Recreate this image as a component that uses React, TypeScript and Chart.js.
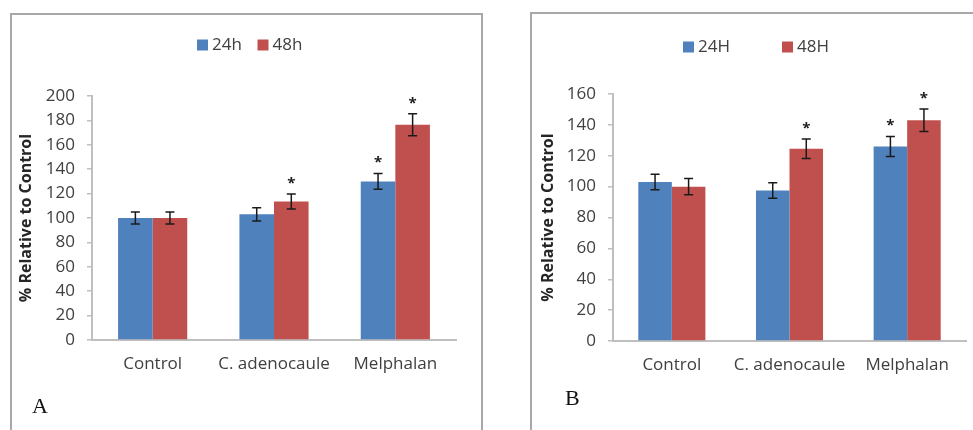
import React, { useEffect, useRef } from 'react';
import { Chart, registerables } from 'chart.js';

Chart.register(...registerables);

// ---------- data ----------
const categories = ['Control', 'C. adenocaule', 'Melphalan'];

// Panel A
const seriesA = ['24h', '48h'];
const a24 = [100, 103, 130];
const a48 = [100, 113.5, 176.5];
const a24Err = [5, 5.5, 6.5];
const a48Err = [5, 6.2, 9];
const a24Sig = [false, false, true];
const a48Sig = [false, true, true];
const aMax = 200;
const aStep = 20;

// Panel B
const seriesB = ['24H', '48H'];
const b24 = [103, 97.5, 126];
const b48 = [100, 124.5, 143];
const b24Err = [5, 5, 6.5];
const b48Err = [5.3, 6.3, 7.3];
const b24Sig = [false, false, true];
const b48Sig = [false, true, true];
const bMax = 160;
const bStep = 20;

const yTitle = '% Relative to Control';

// ---------- styles ----------
const BLUE = '#4F81BD';
const RED = '#C0504D';
const FONT = "'Open Sans', sans-serif";
const TEXT = '#404040';
const AXIS = '#bfbfbf';

function makeErrorPlugin(errors: number[][], sig: boolean[][]) {
  return {
    id: 'errorBars',
    afterDatasetsDraw(chart: any) {
      const { ctx } = chart;
      const ys = chart.scales.y;
      chart.data.datasets.forEach((ds: any, di: number) => {
        const meta = chart.getDatasetMeta(di);
        meta.data.forEach((bar: any, i: number) => {
          const v = ds.data[i];
          const e = errors[di][i];
          const top = ys.getPixelForValue(v + e);
          const bot = ys.getPixelForValue(v - e);
          const x = bar.x;
          const cap = 4.5;
          ctx.save();
          ctx.strokeStyle = '#1a1a1a';
          ctx.lineWidth = 1.5;
          ctx.beginPath();
          ctx.moveTo(x, top);
          ctx.lineTo(x, bot);
          ctx.moveTo(x - cap, top);
          ctx.lineTo(x + cap, top);
          ctx.moveTo(x - cap, bot);
          ctx.lineTo(x + cap, bot);
          ctx.stroke();
          if (sig[di][i]) {
            ctx.fillStyle = '#1a1a1a';
            ctx.font = `bold 15px ${FONT}`;
            ctx.textAlign = 'center';
            ctx.textBaseline = 'alphabetic';
            ctx.fillText('*', x, top - 6);
          }
          ctx.restore();
        });
      });
    },
  };
}

function makeLegendPlugin(xs: number[], yc: number) {
  return {
    id: 'manualLegend',
    afterDraw(chart: any) {
      const { ctx } = chart;
      chart.data.datasets.forEach((ds: any, di: number) => {
        const x = xs[di];
        ctx.save();
        ctx.fillStyle = ds.backgroundColor;
        ctx.fillRect(x, yc - 5.5, 11, 11);
        ctx.fillStyle = TEXT;
        ctx.font = `17px ${FONT}`;
        ctx.textAlign = 'left';
        ctx.textBaseline = 'middle';
        ctx.fillText(ds.label, x + 15, yc);
        ctx.restore();
      });
    },
  };
}

interface PanelCfg {
  series: string[];
  d24: number[];
  d48: number[];
  errors: number[][];
  sig: boolean[][];
  max: number;
  step: number;
  pad: { left: number; right: number; top: number; bottom: number };
  yWidth: number;
  legendXs: number[];
  legendY: number;
}

function buildChart(canvas: HTMLCanvasElement, c: PanelCfg) {
  return new Chart(canvas, {
    type: 'bar',
    data: {
      labels: categories,
      datasets: [
        { label: c.series[0], data: c.d24, backgroundColor: BLUE, borderWidth: 0, barPercentage: 1, categoryPercentage: 0.57 },
        { label: c.series[1], data: c.d48, backgroundColor: RED, borderWidth: 0, barPercentage: 1, categoryPercentage: 0.57 },
      ],
    },
    options: {
      responsive: false,
      animation: false,
      layout: { padding: c.pad },
      plugins: {
        legend: { display: false },
        tooltip: { enabled: false },
        title: { display: false },
      },
      scales: {
        x: {
          grid: { display: false, drawTicks: false },
          border: { display: true, color: AXIS, width: 2 },
          ticks: { color: TEXT, font: { family: FONT, size: 17 }, padding: 14, maxRotation: 0, autoSkip: false },
          afterFit: (s: any) => { s.height = 40; },
        },
        y: {
          min: 0,
          max: c.max,
          ticks: { stepSize: c.step, color: TEXT, font: { family: FONT, size: 17 }, padding: 12 },
          grid: { drawOnChartArea: false, drawTicks: true, tickLength: 5, color: AXIS, lineWidth: 1.5 },
          border: { display: true, color: AXIS, width: 2 },
          title: { display: true, text: yTitle, color: '#262626', font: { family: FONT, size: 16, weight: 'bold' }, padding: { top: 4, bottom: 4 } },
          afterFit: (s: any) => { s.width = c.yWidth; },
        },
      },
    } as any,
    plugins: [makeErrorPlugin(c.errors, c.sig), makeLegendPlugin(c.legendXs, c.legendY)],
  });
}

const cfgA: PanelCfg = {
  series: seriesA,
  d24: a24,
  d48: a48,
  errors: [a24Err, a48Err],
  sig: [a24Sig, a48Sig],
  max: aMax,
  step: aStep,
  pad: { left: 13, right: 29, top: 96, bottom: 50 },
  yWidth: 79,
  legendXs: [197, 257.5],
  legendY: 45,
};

const cfgB: PanelCfg = {
  series: seriesB,
  d24: b24,
  d48: b48,
  errors: [b24Err, b48Err],
  sig: [b24Sig, b48Sig],
  max: bMax,
  step: bStep,
  pad: { left: 15, right: 7, top: 94, bottom: 49 },
  yWidth: 78,
  legendXs: [163, 262],
  legendY: 47,
};

export default function App() {
  const refA = useRef<HTMLCanvasElement>(null);
  const refB = useRef<HTMLCanvasElement>(null);

  useEffect(() => {
    const ca = buildChart(refA.current!, cfgA);
    const cb = buildChart(refB.current!, cfgB);
    return () => {
      ca.destroy();
      cb.destroy();
    };
  }, []);

  const border = '2px solid #a8a8a8';
  const letter: React.CSSProperties = {
    position: 'absolute',
    fontFamily: "'Liberation Serif', serif",
    fontSize: 22,
    lineHeight: '22px',
    color: '#111',
    margin: 0,
  };

  return (
    <div style={{ position: 'fixed', left: 0, top: 0, width: 973, height: 430, overflow: 'hidden', background: '#fff' }}>
      <div style={{ position: 'absolute', left: 10, top: 13, width: 469, height: 500, border, boxSizing: 'content-box' }} />
      <div style={{ position: 'absolute', left: 530, top: 12, width: 600, height: 500, border, boxSizing: 'content-box' }} />
      <canvas ref={refA} width={485} height={430} style={{ position: 'absolute', left: 0, top: 0, width: 485, height: 430 }} />
      <canvas ref={refB} width={453} height={430} style={{ position: 'absolute', left: 520, top: 0, width: 453, height: 430 }} />
      <div style={{ ...letter, left: 32, top: 395 }}>A</div>
      <div style={{ ...letter, left: 565, top: 387 }}>B</div>
    </div>
  );
}
